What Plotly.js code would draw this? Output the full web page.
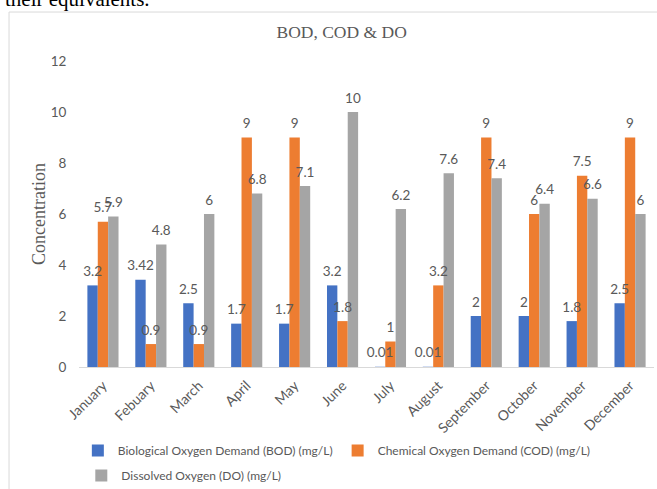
<!DOCTYPE html>
<html>
<head>
<meta charset="utf-8">
<script src="https://cdn.plot.ly/plotly-3.0.1.min.js"></script>
<style>html,body{margin:0;padding:0;background:#fff;}#chart{width:657px;height:489px;}</style>
</head>
<body>
<div id="chart"></div>
<script>
const months = ["January","Febuary","March","April","May","June","July","August","September","October","November","December"];
const bod = [3.2, 3.42, 2.5, 1.7, 1.7, 3.2, 0.01, 0.01, 2, 2, 1.8, 2.5];
const cod = [5.7, 0.9, 0.9, 9, 9, 1.8, 1, 3.2, 9, 6, 7.5, 9];
const dox = [5.9, 4.8, 6, 6.8, 7.1, 10, 6.2, 7.6, 7.4, 6.4, 6.6, 6];
const seriesNames = ["Biological Oxygen Demand (BOD) (mg/L)", "Chemical Oxygen Demand (COD) (mg/L)", "Dissolved Oxygen (DO) (mg/L)"];
const colors = ["#4472C4", "#ED7D31", "#A5A5A5"];
const legendIds = ["legend", "legend", "legend2"];

const sans = "Lato, 'Open Sans', sans-serif";
const serif = "'Liberation Serif', 'DejaVu Serif', serif";
const grey = "#595959";

const series = [bod, cod, dox];
const data = [];
series.forEach((vals, i) => {
  data.push({
    type: "bar", x: months, y: vals, name: seriesNames[i],
    marker: {color: colors[i]}, legend: legendIds[i], hoverinfo: "skip"
  });
});
series.forEach((vals, i) => {
  data.push({
    type: "scatter", mode: "markers+text", x: months, y: vals,
    marker: {size: 8, color: "rgba(0,0,0,0)"},
    text: vals.map(String), textposition: "top center",
    textfont: {family: sans, size: 13.5, color: grey},
    cliponaxis: false, showlegend: false, hoverinfo: "skip"
  });
});

const layout = {
  width: 657, height: 489,
  margin: {l: 79, r: 3, t: 61, b: 122, pad: 0, autoexpand: false},
  paper_bgcolor: "#fff", plot_bgcolor: "#fff",
  barmode: "group", bargap: 0.35, bargroupgap: 0,
  scattermode: "group", scattergap: 0.35,
  title: {text: "BOD, COD & DO", font: {family: serif, size: 17.5, color: grey}, x: 0.52, xanchor: "center", y: 0.935, yanchor: "middle"},
  xaxis: {
    tickangle: -45, tickfont: {family: sans, size: 14, color: grey},
    showline: true, linecolor: "#d9d9d9", linewidth: 1, showgrid: false,
    ticks: "outside", ticklen: 4, tickcolor: "rgba(0,0,0,0)", automargin: false
  },
  yaxis: {
    range: [0, 12], dtick: 2, showgrid: false, zeroline: false, showline: false,
    ticks: "outside", ticklen: 9, tickcolor: "rgba(0,0,0,0)",
    tickfont: {family: sans, size: 13.5, color: grey},
    title: {text: "Concentration", font: {family: serif, size: 18, color: grey}, standoff: 0},
    automargin: false
  },
  legend: {orientation: "h", x: -0.002, xanchor: "left", y: -0.2255, yanchor: "top",
    bgcolor: "rgba(0,0,0,0)", font: {family: sans, size: 12, color: grey}, itemwidth: 30},
  legend2: {orientation: "h", x: 0.004, xanchor: "left", y: -0.307, yanchor: "top",
    bgcolor: "rgba(0,0,0,0)", font: {family: sans, size: 12, color: grey}, itemwidth: 30},
  showlegend: true,
  shapes: [{type: "rect", xref: "paper", yref: "paper", x0: -0.1217, x1: 1.02, y0: -0.42, y1: 1.160,
    line: {color: "#d9d9d9", width: 1}, fillcolor: "rgba(0,0,0,0)", layer: "below"}],
  annotations: [{text: "their equivalents.", xref: "paper", yref: "paper", x: -0.132, xanchor: "left",
    y: 1.203, yanchor: "middle", showarrow: false, font: {family: serif, size: 21, color: "#000"}}]
};
Plotly.newPlot("chart", data, layout, {displayModeBar: false, staticPlot: true});
</script>
</body>
</html>
